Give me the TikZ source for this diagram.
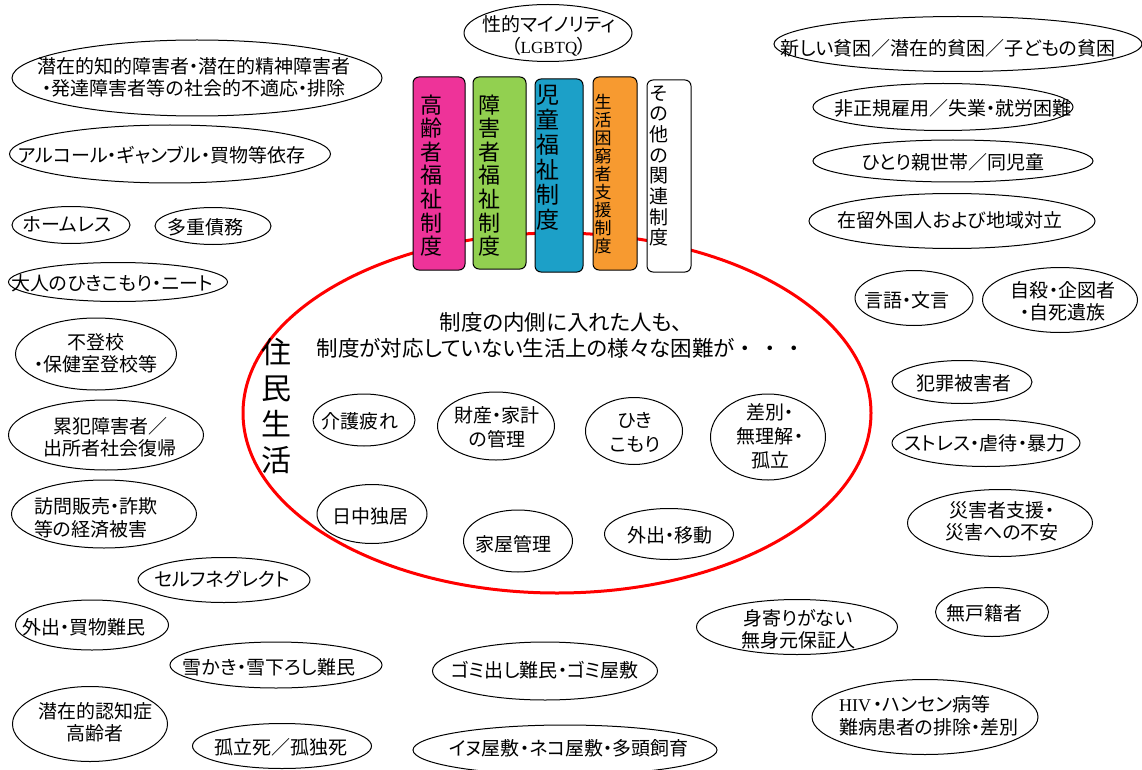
\documentclass[tikz,border=0pt]{standalone}
\usepackage{fontspec}
\setmainfont{Noto Sans CJK JP}[RawFeature=+palt]
\newfontfamily\fullw{Noto Sans CJK JP}
\newfontfamily\latinserif{Liberation Serif}
\usetikzlibrary{shapes.geometric}
\definecolor{boxpink}{RGB}{238,51,153}
\definecolor{boxgreen}{RGB}{146,208,80}
\definecolor{boxblue}{RGB}{28,160,200}
\definecolor{boxorange}{RGB}{247,154,48}
\tikzset{
  bub/.style={draw=black, line width=1pt, fill=white, ellipse, inner sep=0pt},
  txt/.style={align=center, inner sep=0pt, font=\fontsize{19}{22}\selectfont},
  txtl/.style={align=left, inner sep=0pt, font=\fontsize{19}{23}\selectfont},
  intxt/.style={align=center, inner sep=0pt, font=\fontsize{19}{24}\selectfont},
  sysbox/.style={draw=black, line width=1pt, rounded corners=6pt, inner sep=0pt},
  vtxt/.style={align=center, inner sep=0pt},
  lifering/.style={draw=red, line width=3pt, ellipse, inner sep=0pt},
}
% name, centre, width, height, text centre, text style, text
\newcommand\bubnode[7]{%
  \node[bub, minimum width=#3pt, minimum height=#4pt] (#1) at (#2) {};
  \node[#6] (#1-t) at (#5) {#7};}
\begin{document}
\begin{tikzpicture}[x=1pt, y=-1pt]
\fill[white] (0,0) rectangle (1142,770);
\useasboundingbox (0,0) rectangle (1142,770);

% central ring
\node[lifering, minimum width=628pt, minimum height=360pt] (life) at (557,413) {};
\node[vtxt, font=\fontsize{30}{36}\selectfont] (lifet) at (276,406) {住\\民\\生\\活};
\node[align=center, inner sep=0pt, font=\fontsize{21.5}{26}\selectfont] (title) at (561,335)
  {制度の内側に入れた人も、\\制度が対応していない生活上の様々な困難が{\fullw ・\hspace{3pt}・\hspace{3pt}・}};

% system boxes
\node[sysbox, fill=boxpink, minimum width=52pt, minimum height=193pt] (b1) at (439,173.5) {};
\node[vtxt, font=\fontsize{22}{23.6}\selectfont] (b1t) at (431,175.5) {高\\齢\\者\\福\\祉\\制\\度};
\node[sysbox, fill=boxgreen, minimum width=53pt, minimum height=192pt] (b2) at (499.5,173) {};
\node[vtxt, font=\fontsize{22}{23.6}\selectfont] (b2t) at (489,175.5) {障\\害\\者\\福\\祉\\制\\度};
\node[sysbox, fill=boxblue, minimum width=48pt, minimum height=193pt] (b3) at (559,175.5) {};
\node[vtxt, font=\fontsize{23}{25}\selectfont] (b3t) at (548,158) {児\\童\\福\\祉\\制\\度};
\node[sysbox, fill=boxorange, minimum width=44pt, minimum height=193pt] (b4) at (615,173.5) {};
\node[vtxt, font=\fontsize{17}{18}\selectfont] (b4t) at (603,174) {生\\活\\困\\窮\\者\\支\\援\\制\\度};
\node[sysbox, fill=white, minimum width=44pt, minimum height=192pt] (b5) at (669,176) {};
\node[vtxt, font=\fontsize{19}{20.7}\selectfont] (b5t) at (659,166) {そ\\の\\他\\の\\関\\連\\制\\度};

% inner bubbles
\bubnode{kaigo}{364,420}{102}{52}{360,421}{intxt}{介護疲れ}
\bubnode{zaisan}{496,426}{117}{68}{497,427}{intxt}{財産・家計\\の管理}
\bubnode{hiki}{634,431}{97}{67}{635,432}{intxt}{ひき\\こもり}
\bubnode{sabetsu}{768,437}{115}{86}{770,436}{intxt}{差別・\\無理解・\\孤立}
\bubnode{nitchu}{372,514}{110}{59}{370,516}{intxt}{日中独居}
\bubnode{kaoku}{518,541}{109}{62}{513,544}{intxt}{家屋管理}
\bubnode{ido}{669,534}{129}{51}{670,535}{intxt}{外出・移動}

% outer bubbles (left)
\bubnode{lgbt}{548,33}{168}{57}{549,36}{txt}{性的マイノリティ\\（{\latinserif\fontsize{17}{22}\selectfont LGBTQ}）}
\bubnode{latent}{197,78}{370}{76}{194,77}{txt}{潜在的知的障害者・潜在的精神障害者\\・発達障害者等の社会的不適応・排除}
\bubnode{alcohol}{170,154}{321}{58}{162,155}{txt}{アルコール・ギャンブル・買物等依存}
\bubnode{homeless}{71,225}{118}{37}{67,224}{txt}{ホームレス}
\bubnode{debt}{213,226}{116}{37}{205,227}{txt}{多重債務}
\bubnode{neet}{118,282}{219}{39}{112,283}{txt}{大人のひきこもり・ニート}
\bubnode{futoko}{96,354}{161}{72}{96,353}{txt}{不登校\\・保健室登校等}
\bubnode{ruihan}{106,435}{195}{70}{110,437}{txt}{累犯障害者／\\出所者社会復帰}
\bubnode{homon}{104,514}{185}{68}{96,518}{txtl}{訪問販売・詐欺\\等の経済被害}
\bubnode{neglect}{224,580}{172}{45}{222,579}{txt}{セルフネグレクト}
\bubnode{kaimono}{92,625}{153}{50}{84,627}{txt}{外出・買物難民}
\bubnode{yuki}{276,665}{212}{46}{269,667}{txt}{雪かき・雪下ろし難民}
\bubnode{ninchi}{90,724}{155}{75}{95,722}{txt}{潜在的認知症\\高齢者}
\bubnode{kodoku}{282,746}{179}{45}{281,747}{txt}{孤立死／孤独死}
\bubnode{gomi}{545,671}{225}{58}{545,670}{txt}{ゴミ出し難民・ゴミ屋敷}
\bubnode{inu}{565,750}{304}{50}{569,748}{txt}{イヌ屋敷・ネコ屋敷・多頭飼育}

% outer bubbles (right)
\bubnode{miyori}{797,627}{201}{55}{798,629}{txt}{身寄りがない\\無身元保証人}
\bubnode{koseki}{992,612}{113}{49}{984,613}{txt}{無戸籍者}
\bubnode{hiv}{925,717}{226}{75}{929,716}{txtl}{{\latinserif\fontsize{18}{23}\selectfont HIV}\hspace{2pt}・ハンセン病等\\難病患者の排除・差別}
\bubnode{hinkon}{958,44}{368}{55}{948,48}{txt}{新しい貧困／潜在的貧困／子どもの貧困}
\bubnode{hiseiki}{943,107}{260}{47}{953,108}{txt}{非正規雇用／失業・就労困難}
\bubnode{hitori}{953,161}{280}{42}{953,162}{txt}{ひとり親世帯／同児童}
\bubnode{zairyu}{952,221}{286}{55}{950,220}{txt}{在留外国人および地域対立}
\bubnode{gengo}{914,298}{118}{55}{907,300}{txt}{言語・文言}
\bubnode{jisatsu}{1060,300}{155}{65}{1063,301}{txt}{自殺・企図者\\・自死遺族}
\bubnode{hanzai}{962,382}{140}{43}{964,383}{txt}{犯罪被害者}
\bubnode{stress}{986,443}{188}{47}{985,443}{txt}{ストレス・虐待・暴力}
\bubnode{saigai}{1000,523}{185}{67}{1002,521}{txt}{災害者支援・\\災害への不安}
\end{tikzpicture}
\end{document}
